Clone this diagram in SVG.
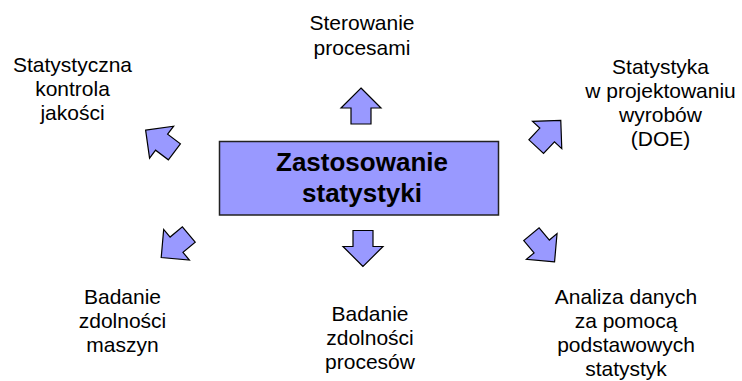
<svg xmlns="http://www.w3.org/2000/svg" width="742" height="381" viewBox="0 0 742 381">
<style>
.lbl{font-family:"Liberation Sans",Arial,sans-serif;font-size:21px;fill:#000;text-anchor:middle}
.main{font-family:"Liberation Sans",Arial,sans-serif;font-size:26px;font-weight:bold;fill:#000;text-anchor:middle}
.arr{fill:#9999ff;stroke:#000;stroke-width:1.2;stroke-linejoin:miter}
</style>
<defs>
<polygon id="ar" points="0,-18 20,2 10,2 10,18 -10,18 -10,2 -20,2"/>
</defs>
<rect width="742" height="381" fill="#fff"/>
<g id="center">
<rect x="219.5" y="141.5" width="279" height="73.5" fill="#9999ff" stroke="#222" stroke-width="1.5"/>
<text class="main" x="362" y="171">Zastosowanie</text>
<text class="main" x="362" y="202">statystyki</text>
</g>
<g id="connectors">
<use href="#ar" class="arr" transform="translate(361,106)"/>
<use href="#ar" class="arr" transform="translate(363,248.5) rotate(180)"/>
<use href="#ar" class="arr" transform="translate(160,141) rotate(-53)"/>
<use href="#ar" class="arr" transform="translate(548.5,133.5) rotate(43)"/>
<use href="#ar" class="arr" transform="translate(175,246) rotate(-130)"/>
<use href="#ar" class="arr" transform="translate(543,248) rotate(140)"/>
</g>
<g id="n-sterowanie">
<text class="lbl" x="362" y="30">Sterowanie</text>
<text class="lbl" x="362" y="54.5">procesami</text>
</g>
<g id="n-skj">
<text class="lbl" x="72.5" y="71.5">Statystyczna</text>
<text class="lbl" x="72.5" y="95.5">kontrola</text>
<text class="lbl" x="72.5" y="119.5">jakości</text>
</g>
<g id="n-doe">
<text class="lbl" x="660.5" y="73.5">Statystyka</text>
<text class="lbl" x="660.5" y="97.5">w projektowaniu</text>
<text class="lbl" x="660.5" y="122">wyrobów</text>
<text class="lbl" x="660.5" y="146">(DOE)</text>
</g>
<g id="n-maszyn">
<text class="lbl" x="122.5" y="303.5">Badanie</text>
<text class="lbl" x="122.5" y="327.5">zdolności</text>
<text class="lbl" x="122.5" y="352">maszyn</text>
</g>
<g id="n-procesow">
<text class="lbl" x="370" y="320.5">Badanie</text>
<text class="lbl" x="370" y="345">zdolności</text>
<text class="lbl" x="370" y="369">procesów</text>
</g>
<g id="n-analiza">
<text class="lbl" x="626" y="303.5">Analiza danych</text>
<text class="lbl" x="626" y="327.5">za pomocą</text>
<text class="lbl" x="626" y="352">podstawowych</text>
<text class="lbl" x="626" y="376">statystyk</text>
</g>
</svg>
